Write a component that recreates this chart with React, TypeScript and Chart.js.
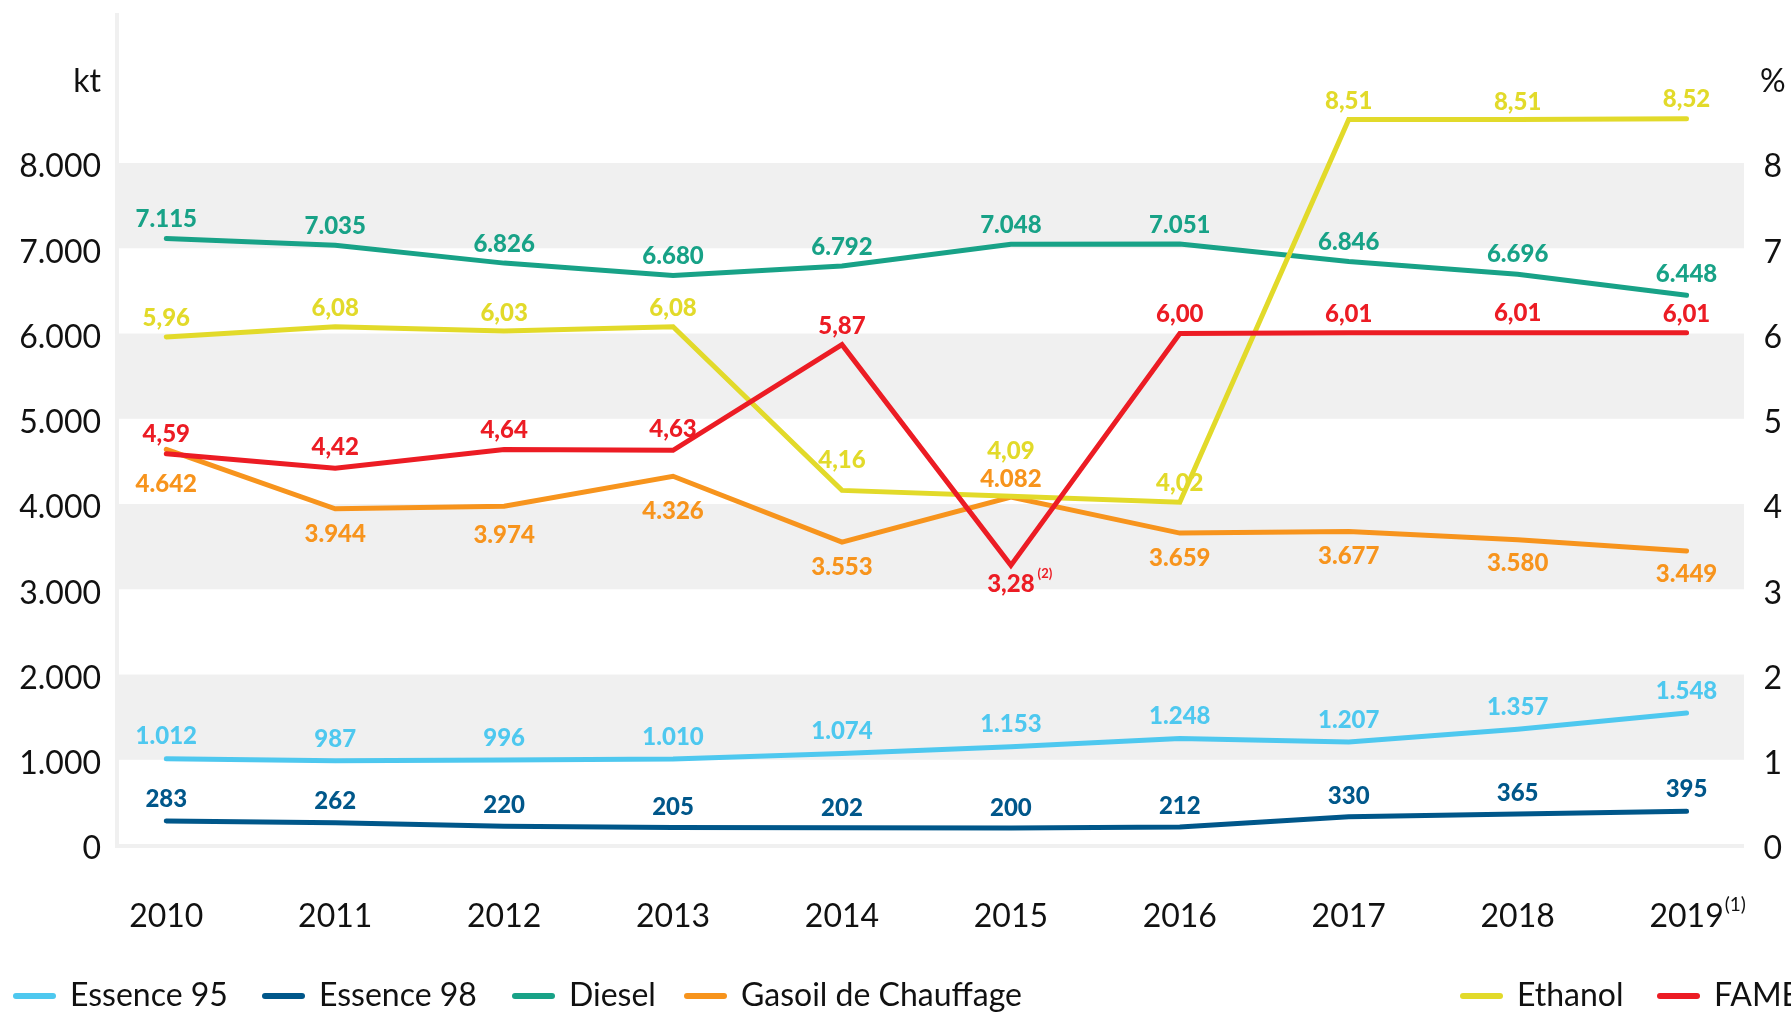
import React, { useEffect, useRef } from "react";
import { Chart, registerables } from "chart.js";

Chart.register(...registerables);

// ---------- DATA ----------
const YEARS = [2010, 2011, 2012, 2013, 2014, 2015, 2016, 2017, 2018, 2019];
const ESSENCE_95 = [1012, 987, 996, 1010, 1074, 1153, 1248, 1207, 1357, 1548];
const ESSENCE_98 = [283, 262, 220, 205, 202, 200, 212, 330, 365, 395];
const DIESEL = [7115, 7035, 6826, 6680, 6792, 7048, 7051, 6846, 6696, 6448];
const GASOIL = [4642, 3944, 3974, 4326, 3553, 4082, 3659, 3677, 3580, 3449];
const ETHANOL = [5.96, 6.08, 6.03, 6.08, 4.16, 4.09, 4.02, 8.51, 8.51, 8.52];
const FAME = [4.59, 4.42, 4.64, 4.63, 5.87, 3.28, 6.0, 6.01, 6.01, 6.01];

const KT_TICKS = [0, 1000, 2000, 3000, 4000, 5000, 6000, 7000, 8000, 9000];
const PCT_TICKS = [0, 1, 2, 3, 4, 5, 6, 7, 8, 9];
const SHADED_BANDS = [
  [1000, 2000],
  [3000, 4000],
  [5000, 6000],
  [7000, 8000],
];

// label placement (pixel offsets from the point, negative = above)
const LABEL_OFFSETS: Record<string, number[]> = {
  "Essence 95": [-22, -22, -22, -22, -22, -22, -22, -22, -22, -22],
  "Essence 98": [-22, -21, -21, -20, -20, -20, -21, -21, -21, -22],
  Diesel: [-19, -19, -19, -19, -19, -19, -19, -19, -20, -21],
  "Gasoil de Chauffage": [35, 25, 29, 35, 25, -18, 25, 25, 23, 23],
  Ethanol: [-19, -18, -18, -18, -30, -45, -19, -18, -17, -19],
  FAME: [-19, -21, -19, -21, -18, 19, -19, -18, -19, -18],
};
const FOOTNOTE_FAME_INDEX = 5;

const FONT = "Lato, 'Open Sans', sans-serif";

const COLORS = {
  e95: "#4ec8ef",
  e98: "#00578a",
  diesel: "#18a287",
  gasoil: "#f7941d",
  ethanol: "#e2da2a",
  fame: "#ec1c24",
};

const fmtKt = (v: number) => String(Math.round(v)).replace(/\B(?=(\d{3})+(?!\d))/g, ".");
const fmtPct = (v: number) => Number(v).toFixed(2).replace(".", ",");

const LEGEND_ITEMS = [
  { label: "Essence 95", color: COLORS.e95, x: 13 },
  { label: "Essence 98", color: COLORS.e98, x: 262 },
  { label: "Diesel", color: COLORS.diesel, x: 512 },
  { label: "Gasoil de Chauffage", color: COLORS.gasoil, x: 684 },
  { label: "Ethanol", color: COLORS.ethanol, x: 1460 },
  { label: "FAME", color: COLORS.fame, x: 1657 },
];

const decorPlugin = {
  id: "decor",
  beforeDatasetsDraw(chart: any) {
    const { ctx, chartArea: ca, scales } = chart;
    const y = scales.y;
    ctx.save();
    ctx.fillStyle = "#f0f0f0";
    for (const [a, b] of SHADED_BANDS) {
      const top = y.getPixelForValue(b);
      const bot = y.getPixelForValue(a);
      ctx.fillRect(ca.left, top, ca.right - ca.left, bot - top);
    }
    const y0 = y.getPixelForValue(0);
    ctx.fillRect(ca.left - 4, ca.top, 4, y0 + 3 - ca.top);
    ctx.fillRect(ca.left - 4, y0 - 1, ca.right - ca.left + 4, 4);
    ctx.restore();
  },
  afterDatasetsDraw(chart: any) {
    const { ctx } = chart;
    ctx.save();
    ctx.textBaseline = "middle";
    chart.data.datasets.forEach((ds: any, i: number) => {
      const meta = chart.getDatasetMeta(i);
      const offs = LABEL_OFFSETS[ds.label];
      const isPct = ds.yAxisID === "y1";
      ctx.fillStyle = ds.borderColor;
      meta.data.forEach((pt: any, j: number) => {
        const raw = ds.data[j];
        const v = typeof raw === "object" ? raw.y : raw;
        const txt = isPct ? fmtPct(v) : fmtKt(v);
        const ly = pt.y + offs[j];
        ctx.font = `900 24px ${FONT}`;
        ctx.textAlign = "center";
        ctx.fillText(txt, pt.x, ly);
        if (ds.label === "FAME" && j === FOOTNOTE_FAME_INDEX) {
          const w = ctx.measureText(txt).width;
          ctx.font = `bold 13px ${FONT}`;
          ctx.textAlign = "left";
          ctx.fillText("(2)", pt.x + w / 2 + 3, ly - 11);
        }
      });
    });
    ctx.restore();
  },
  afterDraw(chart: any) {
    const { ctx, chartArea: ca, scales } = chart;
    ctx.save();
    // footnote on last year tick
    ctx.font = `32px ${FONT}`;
    const w = ctx.measureText(String(YEARS[YEARS.length - 1])).width;
    const xLast = scales.x.getPixelForValue(YEARS[YEARS.length - 1]);
    ctx.font = `19px ${FONT}`;
    ctx.fillStyle = "#111";
    ctx.textAlign = "left";
    ctx.textBaseline = "middle";
    ctx.fillText("(1)", xLast + w / 2 + 1, ca.bottom + 60);

    // legend
    const ly = 996;
    ctx.font = `32px ${FONT}`;
    ctx.lineCap = "round";
    ctx.lineWidth = 6;
    for (const it of LEGEND_ITEMS) {
      ctx.strokeStyle = it.color;
      ctx.beginPath();
      ctx.moveTo(it.x + 3, ly);
      ctx.lineTo(it.x + 40, ly);
      ctx.stroke();
      ctx.fillStyle = "#111";
      ctx.fillText(it.label, it.x + 57, ly);
    }
    ctx.restore();
  },
};

const zeroPad = (s: any) => {
  s.paddingTop = 0;
  s.paddingBottom = 0;
  s.paddingLeft = 0;
  s.paddingRight = 0;
};

export default function App() {
  const ref = useRef<HTMLCanvasElement | null>(null);
  useEffect(() => {
    document.body.style.margin = "0";
    if (!ref.current) return;
    const line = (label: string, data: number[], color: string, axis: string, order: number) => ({
      label,
      data: data.map((v, i) => ({ x: YEARS[i], y: v })),
      borderColor: color,
      backgroundColor: color,
      borderWidth: 5,
      borderJoinStyle: "miter" as const,
      borderCapStyle: "round" as const,
      pointRadius: 0,
      tension: 0,
      yAxisID: axis,
      order,
    });
    const chart = new Chart(ref.current, {
      type: "line",
      data: {
        datasets: [
          line("Essence 95", ESSENCE_95, COLORS.e95, "y", 5),
          line("Essence 98", ESSENCE_98, COLORS.e98, "y", 4),
          line("Diesel", DIESEL, COLORS.diesel, "y", 3),
          line("Gasoil de Chauffage", GASOIL, COLORS.gasoil, "y", 2),
          line("Ethanol", ETHANOL, COLORS.ethanol, "y1", 1),
          line("FAME", FAME, COLORS.fame, "y1", 0),
        ],
      },
      options: {
        responsive: false,
        animation: false,
        devicePixelRatio: 1,
        layout: { padding: { top: 13, left: 0, right: 0, bottom: 0 } },
        plugins: { legend: { display: false }, tooltip: { enabled: false } },
        scales: {
          x: {
            type: "linear",
            min: 2009.72,
            max: 2019.34,
            grid: { display: false },
            border: { display: false },
            afterBuildTicks: (s: any) => {
              s.ticks = YEARS.map((v) => ({ value: v }));
            },
            afterFit: (s: any) => {
              s.height = 169;
              zeroPad(s);
            },
            ticks: {
              font: { family: FONT, size: 32 },
              color: "#111",
              padding: 44,
              maxRotation: 0,
              autoSkip: false,
              callback: (v: any) => String(v),
            },
          },
          y: {
            type: "linear",
            position: "left",
            min: 0,
            max: 9760,
            grid: { display: false },
            border: { display: false },
            afterBuildTicks: (s: any) => {
              s.ticks = KT_TICKS.map((v) => ({ value: v }));
            },
            afterFit: (s: any) => {
              s.width = 119;
              zeroPad(s);
            },
            ticks: {
              font: { family: FONT, size: 32 },
              color: "#111",
              padding: 10,
              labelOffset: 4,
              autoSkip: false,
              callback: (v: any) => (v === 9000 ? "kt" : fmtKt(v)),
            },
          },
          y1: {
            type: "linear",
            position: "right",
            min: 0,
            max: 9.76,
            grid: { display: false },
            border: { display: false },
            afterBuildTicks: (s: any) => {
              s.ticks = PCT_TICKS.map((v) => ({ value: v }));
            },
            afterFit: (s: any) => {
              s.width = 47;
              zeroPad(s);
            },
            ticks: {
              font: { family: FONT, size: 32 },
              color: "#111",
              padding: 8,
              labelOffset: 4,
              crossAlign: "center",
              autoSkip: false,
              callback: (v: any) => (v === 9 ? "%" : String(v)),
            },
          },
        },
      },
      plugins: [decorPlugin],
    });
    return () => chart.destroy();
  }, []);
  return (
    <div style={{ width: 1791, height: 1014 }}>
      <canvas ref={ref} width={1791} height={1014} style={{ display: "block" }} />
    </div>
  );
}
